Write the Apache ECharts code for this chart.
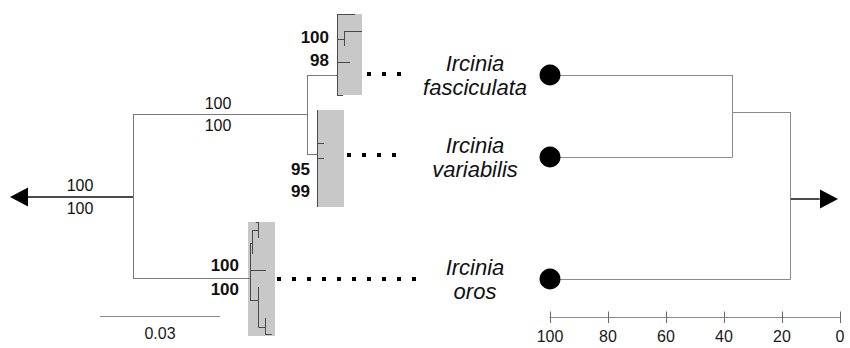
<!DOCTYPE html>
<html><head><meta charset="utf-8">
<script src="https://cdn.jsdelivr.net/npm/echarts/dist/echarts.min.js"></script>
<style>html,body{margin:0;padding:0;background:#fff}#c{width:850px;height:348px}</style>
</head><body><div id="c"></div>
<script>
// ===== DATA =====
const species = ['Ircinia\nfasciculata', 'Ircinia\nvariabilis', 'Ircinia\noros'];
const leafRow = [75, 157, 279];            // row (vertical layout unit) of each taxon

// Right: similarity dendrogram (%)
const simTicks = [100, 80, 60, 40, 20, 0];
const simLeaf = 100;
const simMerge1 = 37;                      // fasciculata + variabilis
const simMerge2 = 17;                      // + oros
const simMerge1Row = 112;
const simRootRow = 199;
const simStemEnd = 7;
const simArrowAt = 3.8;

// Left: phylogram (substitutions / site)
const scaleBar = 0.03;
const scaleBarStart = -0.00825;
const scaleBarRow = 316;
const rootStem = -0.02625;
const rootArrowAt = -0.0285;
const rootRow = 197;
const cladeDepth = 0.0435;                 // node joining fasciculata & variabilis
const cladeRow = 114;
const connectRow = [75, 154, 278];
const boxDepth = [0.051, 0.046, 0.02925];
const boxWidth = [0.00625, 0.00675, 0.00675];
const boxRows = [[14, 95], [110, 207], [222, 336]];
const boxShift = [0, 0, -0.0005];

// collapsed-clade internal branches [[depth,row],[depth,row]]
const subFasc = [
  [[0.051,14],[0.051,95]], [[0.051,14],[0.0555,14]], [[0.051,39],[0.05275,39]],
  [[0.05275,31],[0.05275,46]], [[0.05275,31],[0.05725,31]], [[0.051,62],[0.05425,62]],
  [[0.051,95],[0.0525,95]]
];
const subVar = [
  [[0.046,110],[0.046,207]], [[0.046,143],[0.04775,143]], [[0.046,158],[0.04775,158]]
];
const subOros = [
  [[0.030675,222],[0.031325,222]], [[0.031325,222],[0.031325,238]],
  [[0.029925,230],[0.031325,230]], [[0.029925,230],[0.029925,254]],
  [[0.02925,243],[0.029925,243]], [[0.02925,243],[0.02925,300]],
  [[0.02925,270],[0.03325,270]], [[0.02925,300],[0.031325,300]],
  [[0.031325,287],[0.031325,327]], [[0.031325,327],[0.033,327]],
  [[0.033,318],[0.033,334]], [[0.033,334],[0.034675,334]]
];
// dotted leaders [startDepth, endDepth, row]
const leaders = [[0.0585, 0.067, 74], [0.0535, 0.066125, 155], [0.036, 0.07075, 279]];

// bootstrap supports: [depth, row, text, align, bold]
const supports = [
  [-0.01325, 185, '100', 'center', false], [-0.01325, 208, '100', 'center', false],
  [0.02125, 103, '100', 'center', false], [0.02125, 125, '100', 'center', false],
  [0.049, 37, '100', 'right', true], [0.049, 60, '98', 'right', true],
  [0.04425, 169, '95', 'right', true], [0.04425, 191, '99', 'right', true],
  [0.0265, 265, '100', 'right', true], [0.0265, 289, '100', 'right', true]
];

// ===== CHART =====
const FONT = "'Liberation Sans', Arial, sans-serif";
const chart = echarts.init(document.getElementById('c'), null, {renderer: 'svg'});

const mainTree = [
  [[0, cladeRow], [0, connectRow[2]]],
  [[0, cladeRow], [cladeDepth, cladeRow]],
  [[cladeDepth, connectRow[0]], [cladeDepth, connectRow[1]]],
  [[cladeDepth, connectRow[0]], [boxDepth[0], connectRow[0]]],
  [[cladeDepth, connectRow[1]], [boxDepth[1], connectRow[1]]],
  [[0, connectRow[2]], [boxDepth[2], connectRow[2]]]
];
const rightTree = [
  [[simLeaf, leafRow[0]], [simMerge1, leafRow[0]]],
  [[simLeaf, leafRow[1]], [simMerge1, leafRow[1]]],
  [[simMerge1, leafRow[0]], [simMerge1, leafRow[1]]],
  [[simMerge1, simMerge1Row], [simMerge2, simMerge1Row]],
  [[simLeaf, leafRow[2]], [simMerge2, leafRow[2]]],
  [[simMerge2, simMerge1Row], [simMerge2, leafRow[2]]]
];
const seg = arr => arr.map(c => ({coords: c}));
const AXIS_ROW = 317;   // y-axis max of grid 1 = axis position
const TICK_UP = 5.5;

const option = {
  backgroundColor: '#ffffff',
  animation: false,
  textStyle: {fontFamily: FONT},
  grid: [
    {left: 0, right: 0, top: 0, bottom: 0},
    {left: 550, right: 10, top: 0, bottom: 31}
  ],
  xAxis: [
    {gridIndex: 0, type: 'value', min: -0.03325, max: 0.17925, show: false},
    {gridIndex: 1, type: 'value', min: 0, max: 100, interval: 20, inverse: true, position: 'bottom',
      axisLine: {show: true, onZero: false, lineStyle: {color: '#8a8a8a', width: 1}},
      axisTick: {show: true, inside: false, length: 6, lineStyle: {color: '#6a6a6a'}},
      axisLabel: {fontSize: 16, color: '#1a1a1a', margin: 11, fontFamily: FONT,
        formatter: v => simTicks.includes(v) ? String(v) : ''},
      splitLine: {show: false}}
  ],
  yAxis: [
    {gridIndex: 0, type: 'value', min: 0, max: 348, inverse: true, show: false},
    {gridIndex: 1, type: 'value', min: 0, max: AXIS_ROW, inverse: true, show: false}
  ],
  series: [
    // grey boxes
    {type: 'custom', xAxisIndex: 0, yAxisIndex: 0, z: 1,
      data: boxDepth.map((d, i) => [d + boxShift[i], boxRows[i][0], d + boxShift[i] + boxWidth[i], boxRows[i][1]]),
      renderItem: (params, api) => {
        const p0 = api.coord([api.value(0), api.value(1)]);
        const p1 = api.coord([api.value(2), api.value(3)]);
        return {type: 'rect', shape: {x: p0[0], y: p0[1], width: p1[0] - p0[0], height: p1[1] - p0[1]},
          style: {fill: '#c8c8c8'}};
      }},
    // main tree
    {type: 'lines', coordinateSystem: 'cartesian2d', xAxisIndex: 0, yAxisIndex: 0, z: 3,
      lineStyle: {color: '#7a7a7a', width: 1, opacity: 1}, data: seg(mainTree)},
    // collapsed clades
    {type: 'lines', coordinateSystem: 'cartesian2d', xAxisIndex: 0, yAxisIndex: 0, z: 3,
      lineStyle: {color: '#4a4a4a', width: 1, opacity: 1}, data: seg(subFasc.concat(subVar, subOros))},
    // root stem
    {type: 'lines', coordinateSystem: 'cartesian2d', xAxisIndex: 0, yAxisIndex: 0, z: 3,
      lineStyle: {color: '#111', width: 1.5, opacity: 1},
      data: seg([[[rootStem, rootRow], [0, rootRow]]])},
    // scale bar
    {type: 'lines', coordinateSystem: 'cartesian2d', xAxisIndex: 0, yAxisIndex: 0, z: 3,
      lineStyle: {color: '#8a8a8a', width: 1, opacity: 1},
      data: seg([[[scaleBarStart, scaleBarRow], [scaleBarStart + scaleBar, scaleBarRow]]])},
    {type: 'scatter', xAxisIndex: 0, yAxisIndex: 0, symbolSize: 0, z: 5, itemStyle: {opacity: 1},
      data: [[scaleBarStart + scaleBar / 2, scaleBarRow + 17]],
      label: {show: true, position: 'inside', formatter: String(scaleBar), fontSize: 16, color: '#1a1a1a', fontFamily: FONT}},
    // dotted leaders
    {type: 'lines', coordinateSystem: 'cartesian2d', xAxisIndex: 0, yAxisIndex: 0, z: 3,
      lineStyle: {color: '#000', width: 4, type: [4, 11], cap: 'butt', opacity: 1},
      data: leaders.map(l => ({coords: [[l[0], l[2]], [l[1], l[2]]]}))},
    // root arrow head
    {type: 'scatter', xAxisIndex: 0, yAxisIndex: 0, z: 4, symbol: 'triangle', symbolSize: [19, 18], symbolRotate: 90,
      itemStyle: {color: '#000', opacity: 1}, data: [[rootArrowAt, rootRow]]},
    // bootstrap supports
    {type: 'scatter', xAxisIndex: 0, yAxisIndex: 0, symbolSize: 0, z: 5, itemStyle: {opacity: 1},
      data: supports.map(s => ({value: [s[0], s[1]],
        label: {show: true, position: 'inside', formatter: s[2], align: s[3],
          fontWeight: s[4] ? 'bold' : 'normal', fontSize: s[4] ? 17 : 16, color: '#111', fontFamily: FONT}}))},
    // right dendrogram
    {type: 'lines', coordinateSystem: 'cartesian2d', xAxisIndex: 1, yAxisIndex: 1, z: 3,
      lineStyle: {color: '#8a8a8a', width: 1, opacity: 1}, data: seg(rightTree)},
    // upper halves of the axis ticks (ticks cross the axis line)
    {type: 'lines', coordinateSystem: 'cartesian2d', xAxisIndex: 1, yAxisIndex: 1, z: 3,
      lineStyle: {color: '#6a6a6a', width: 1, opacity: 1},
      data: simTicks.map(t => ({coords: [[t, AXIS_ROW - TICK_UP], [t, AXIS_ROW]]}))},
    {type: 'lines', coordinateSystem: 'cartesian2d', xAxisIndex: 1, yAxisIndex: 1, z: 3,
      lineStyle: {color: '#111', width: 1.5, opacity: 1},
      data: seg([[[simMerge2, simRootRow], [simStemEnd, simRootRow]]])},
    {type: 'scatter', xAxisIndex: 1, yAxisIndex: 1, z: 4, symbol: 'triangle', symbolSize: [19, 18], symbolRotate: -90,
      itemStyle: {color: '#000', opacity: 1}, data: [[simArrowAt, simRootRow]]},
    // leaves + species names
    {type: 'scatter', xAxisIndex: 1, yAxisIndex: 1, z: 6, symbol: 'circle', symbolSize: 21,
      itemStyle: {color: '#000', opacity: 1},
      data: leafRow.map((r, i) => ({value: [simLeaf, r],
        label: {show: true, position: 'inside', offset: [-75, 0], formatter: species[i], align: 'center',
          fontSize: 22, fontStyle: 'italic', lineHeight: 24, color: '#111', fontFamily: FONT}}))}
  ]
};
chart.setOption(option);
</script></body></html>
